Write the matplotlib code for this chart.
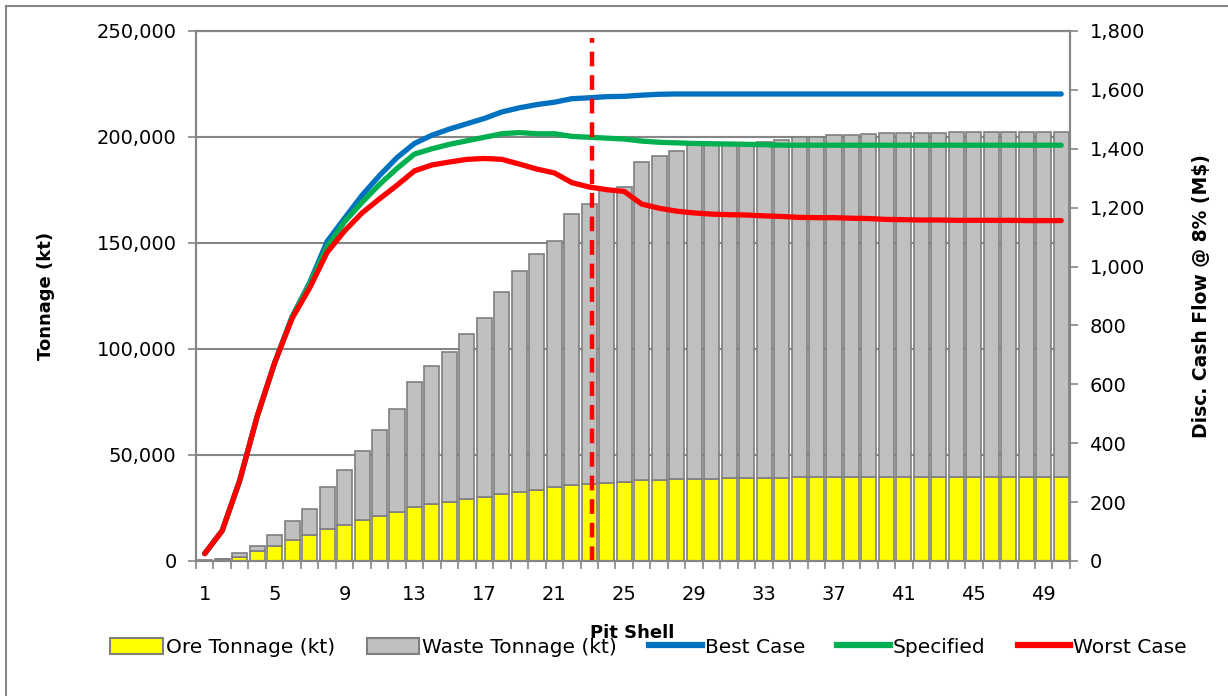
import numpy as np
import matplotlib
matplotlib.use("Agg")
import matplotlib.pyplot as plt
from matplotlib.patches import Patch
from matplotlib.lines import Line2D
from matplotlib.ticker import FuncFormatter, MultipleLocator

plt.rcParams['font.family'] = ['DejaVu Sans']

# Pit shells 1..50
shells = list(range(1, 51))

# Tonnage (kt)
ore = [200, 700, 2000, 4500, 7200, 9800, 12100, 15000, 17200, 19200,
       21200, 23200, 25400, 26900, 27900, 29000, 30000, 31500, 32500, 33500,
       34700, 35700, 36200, 36700, 37200, 38200, 38200, 38700, 38800, 38900,
       39000, 39000, 39100, 39200, 39400, 39600, 39600, 39600, 39600, 39600,
       39600, 39600, 39600, 39600, 39600, 39600, 39600, 39600, 39600, 39600]
waste = [200, 300, 1700, 2700, 5100, 9100, 12600, 19800, 25600, 32500,
         40400, 48300, 59100, 65000, 70800, 77900, 84600, 95600, 104400, 111300,
         116000, 127800, 132300, 138200, 139200, 150200, 152900, 154900, 157300, 157600,
         158000, 158300, 158700, 159500, 160800, 160600, 161200, 161200, 161700, 162100,
         162100, 162100, 162100, 162800, 162800, 162800, 162800, 162800, 162800, 162800]

# Discounted cash flow @ 8% (M$)
best = [25, 103, 273, 491, 673, 830, 945, 1085, 1164, 1242,
        1309, 1370, 1418, 1446, 1467, 1485, 1503, 1525, 1539, 1550,
        1558, 1570, 1573, 1577, 1578, 1582, 1585, 1586, 1586, 1586,
        1586, 1586, 1586, 1586, 1586, 1586, 1586, 1586, 1586, 1586,
        1586, 1586, 1586, 1586, 1586, 1586, 1586, 1586, 1586, 1586]
specified = [25, 103, 273, 491, 673, 828, 940, 1067, 1152, 1218,
             1279, 1333, 1382, 1400, 1415, 1427, 1439, 1451, 1455, 1451,
             1451, 1442, 1439, 1436, 1433, 1426, 1422, 1420, 1418, 1417,
             1416, 1415, 1414, 1412, 1412, 1412, 1412, 1412, 1412, 1412,
             1412, 1412, 1412, 1412, 1412, 1412, 1412, 1412, 1412, 1412]
worst = [25, 103, 273, 491, 673, 824, 927, 1048, 1121, 1182,
         1230, 1276, 1325, 1345, 1355, 1364, 1367, 1364, 1348, 1331,
         1318, 1285, 1270, 1261, 1255, 1212, 1198, 1188, 1182, 1178,
         1176, 1175, 1172, 1170, 1167, 1166, 1166, 1164, 1163, 1160,
         1159, 1158, 1158, 1157, 1157, 1157, 1157, 1156, 1156, 1156]

selected_shell = 23.15  # red dashed marker
x_labels = [1, 5, 9, 13, 17, 21, 25, 29, 33, 37, 41, 45, 49]

GRAY = '#868686'
EDGE = '#7f7f7f'

fig = plt.figure(figsize=(12.28, 6.96), dpi=100)
ax = fig.add_axes([0.1596, 0.194, 0.7117, 0.7615])
ax2 = ax.twinx()

# bars
ax.bar(shells, ore, width=0.86, color='#ffff00', edgecolor=EDGE, linewidth=1.2)
ax.bar(shells, waste, bottom=ore, width=0.86, color='#c0c0c0', edgecolor=EDGE, linewidth=1.2)

ax.set_xlim(0.5, 50.5)
ax.set_ylim(0, 250000)
ax.yaxis.set_major_locator(MultipleLocator(50000))
ax.yaxis.set_major_formatter(FuncFormatter(lambda v, p: f"{int(v):,}"))
ax.grid(axis='y', color=GRAY, linewidth=1.5)
ax.set_axisbelow(True)

# x ticks: labels at centres, tick marks at category boundaries
ax.set_xticks(x_labels)
ax.set_xticklabels([str(v) for v in x_labels])
ax.set_xticks(np.arange(0.5, 51, 1), minor=True)
ax.tick_params(axis='x', which='major', length=0, pad=17, labelsize=14)
ax.tick_params(axis='x', which='minor', length=6, width=1.2, color=GRAY)
ax.tick_params(axis='y', length=6, width=1.2, color=GRAY, labelsize=14, pad=8)

# lines
ax2.plot(shells, best, color='#0070c0', lw=3.8, solid_capstyle='round')
ax2.plot(shells, specified, color='#00b050', lw=3.8, solid_capstyle='round')
ax2.plot(shells, worst, color='#ff0000', lw=3.8, solid_capstyle='round')
ax2.plot([selected_shell, selected_shell], [0, 1775], color='#ff0000', lw=3.2,
         linestyle=(0, (3.3, 2.0)))
ax2.set_ylim(0, 1800)
ax2.yaxis.set_major_locator(MultipleLocator(200))
ax2.yaxis.set_major_formatter(FuncFormatter(lambda v, p: f"{int(v):,}"))
ax2.tick_params(axis='y', length=6, width=1.2, color=GRAY, labelsize=14, pad=8)

for a in (ax, ax2):
    for s in a.spines.values():
        s.set_color(GRAY)
        s.set_linewidth(1.5)

ax.set_ylabel('Tonnage (kt)', fontsize=13, fontweight='bold', labelpad=30)
ax2.set_ylabel('Disc. Cash Flow @ 8% (M$)', fontsize=13.5, fontweight='bold', labelpad=34)
fig.text(0.515, 0.09, 'Pit Shell', fontsize=13, fontweight='bold', ha='center', va='center')

handles = [
    Patch(facecolor='#ffff00', edgecolor=EDGE, linewidth=1.5),
    Patch(facecolor='#c0c0c0', edgecolor=EDGE, linewidth=1.5),
    Line2D([], [], color='#0070c0', lw=4.5),
    Line2D([], [], color='#00b050', lw=4.5),
    Line2D([], [], color='#ff0000', lw=4.5),
]
labels = ['Ore Tonnage (kt)', 'Waste Tonnage (kt)', 'Best Case', 'Specified', 'Worst Case']
fig.legend(handles, labels, loc='center', bbox_to_anchor=(0.528, 0.07), ncol=5,
           frameon=False, fontsize=14.5, handlelength=2.6, handleheight=0.9,
           handletextpad=0.15, columnspacing=1.6)

# chart frame
fig.add_artist(Line2D([0.005, 0.005], [0, 0.991], color=GRAY, lw=1.5, transform=fig.transFigure))
fig.add_artist(Line2D([0.005, 1.0], [0.991, 0.991], color=GRAY, lw=1.5, transform=fig.transFigure))

fig.savefig('out.png', dpi=100)
